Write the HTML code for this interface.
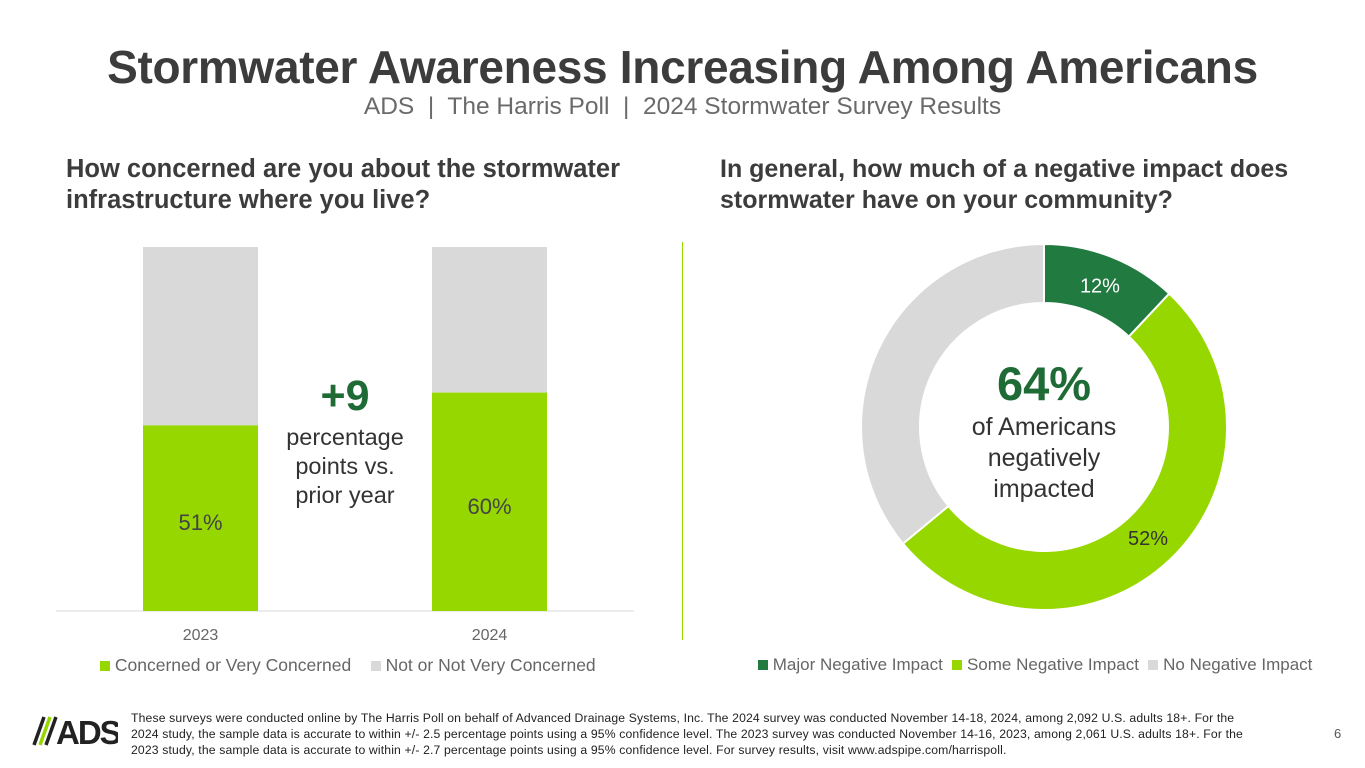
<!DOCTYPE html>
<html><head><meta charset="utf-8"><style>
body{margin:0;width:1365px;height:768px;background:#fff;font-family:"Liberation Sans",sans-serif;position:relative;overflow:hidden;color:#3a3a3a}
.a{position:absolute}
</style></head><body>
<div class="a" style="left:0;width:1365px;top:40px;text-align:center;font-size:46px;font-weight:bold;color:#3c3c3c;letter-spacing:-0.3px">Stormwater Awareness Increasing Among Americans</div>
<div class="a" style="left:0;width:1365px;top:93px;text-align:center;font-size:24.5px;color:#6a6a6a">ADS &nbsp;|&nbsp; The Harris Poll &nbsp;|&nbsp; 2024 Stormwater Survey Results</div>
<div class="a" style="left:66px;top:154px;font-size:25.5px;font-weight:bold;line-height:31px;color:#3c3c3c;white-space:nowrap">How concerned are you about the stormwater<br>infrastructure where you live?</div>
<div class="a" style="left:720px;top:154px;font-size:25px;font-weight:bold;line-height:31px;color:#3c3c3c;white-space:nowrap">In general, how much of a negative impact does<br>stormwater have on your community?</div>
<div class="a" style="left:682px;top:242px;width:1px;height:398px;background:#97d700"></div>
<svg class="a" style="left:0;top:0" width="1365" height="768" id="svg">
<line x1="56" y1="611" x2="634" y2="611" stroke="#d9d9d9"/>
</svg>
<div class="a" style="left:285px;width:120px;top:372px;text-align:center;font-size:43px;font-weight:bold;color:#1e6b35">+9</div>
<div class="a" style="left:260px;width:170px;top:423px;text-align:center;font-size:23.5px;line-height:29px;color:#333">percentage<br>points vs.<br>prior year</div>
<div class="a" style="left:924px;width:240px;top:356px;text-align:center;font-size:47px;font-weight:bold;color:#1e6b35">64%</div>
<div class="a" style="left:924px;width:240px;top:412px;text-align:center;font-size:25px;line-height:31px;color:#333">of Americans<br>negatively<br>impacted</div>
<div class="a" style="left:100px;top:655px;font-size:17.5px;color:#666;white-space:nowrap"><span style="display:inline-block;width:10px;height:10px;background:#97d700"></span> Concerned or Very Concerned &nbsp;&nbsp; <span style="display:inline-block;width:10px;height:10px;background:#d9d9d9"></span> Not or Not Very Concerned</div>
<div class="a" style="left:758px;top:655px;font-size:17px;color:#666;white-space:nowrap"><span style="display:inline-block;width:10px;height:10px;background:#217a40"></span> Major Negative Impact &nbsp;<span style="display:inline-block;width:10px;height:10px;background:#97d700"></span> Some Negative Impact &nbsp;<span style="display:inline-block;width:10px;height:10px;background:#d9d9d9"></span> No Negative Impact</div>
<div class="a" style="left:32px;top:713px;width:86px;height:34px">
<svg width="86" height="34"><g stroke-width="3.5"><line x1="2" y1="32" x2="12" y2="4" stroke="#222"/><line x1="8" y1="32" x2="18" y2="4" stroke="#97d700"/><line x1="14" y1="32" x2="24" y2="4" stroke="#222"/></g>
<text x="24" y="31" font-family="Liberation Sans" font-weight="bold" font-size="33" fill="#222" letter-spacing="-2">ADS</text></svg></div>
<div class="a" style="left:131px;top:710px;width:1160px;font-size:12.2px;letter-spacing:0.15px;line-height:16px;color:#222;white-space:nowrap">These surveys were conducted online by The Harris Poll on behalf of Advanced Drainage Systems, Inc. The 2024 survey was conducted November 14-18, 2024, among 2,092 U.S. adults 18+. For the<br>2024 study, the sample data is accurate to within +/- 2.5 percentage points using a 95% confidence level. The 2023 survey was conducted November 14-16, 2023, among 2,061 U.S. adults 18+. For the<br>2023 study, the sample data is accurate to within +/- 2.7 percentage points using a 95% confidence level. For survey results, visit www.adspipe.com/harrispoll.</div>
<div class="a" style="left:1334px;top:726px;font-size:13px;color:#555">6</div>
<script>
const years=["2023","2024"];
const concerned=[51,60];
const donutLabels=["Major Negative Impact","Some Negative Impact","No Negative Impact"];
const donutValues=[12,52,36];
const svg=document.getElementById('svg');const NS='http://www.w3.org/2000/svg';
function mk(t,at){const e=document.createElementNS(NS,t);for(const k in at)e.setAttribute(k,at[k]);svg.appendChild(e);return e;}
const y0=611,h=364;const y=v=>y0-v/100*h;const xs=i=>143+i*289;
years.forEach((yr,i)=>{
 const g=mk('rect',{x:xs(i),y:y(100),width:115,height:y(concerned[i])-y(100),fill:'#d9d9d9'});
 
 const b=mk('rect',{x:xs(i),y:y(concerned[i]),width:115,height:y0-y(concerned[i]),fill:'#97d700'});
 
 const t=mk('text',{x:xs(i)+57.5,y:y(concerned[i]/2)+12,'text-anchor':'middle','font-size':22,fill:'#444','font-family':'Liberation Sans'});t.textContent=concerned[i]+'%';
 
 const l=mk('text',{x:xs(i)+57.5,y:640,'text-anchor':'middle','font-size':16,fill:'#666','font-family':'Liberation Sans'});l.textContent=yr;
 
});
const cx=1044,cy=427,R=183,r=124,cols=['#217a40','#97d700','#d9d9d9'];
const tot=donutValues.reduce((a,b)=>a+b,0);let acc=0;
const pt=(a,rad)=>[cx+rad*Math.sin(a),cy-rad*Math.cos(a)];
donutValues.forEach((v,i)=>{
 const a0=acc/tot*2*Math.PI;acc+=v;const a1=acc/tot*2*Math.PI;const lg=a1-a0>Math.PI?1:0;
 const p1=pt(a0,R),p2=pt(a1,R),p3=pt(a1,r),p4=pt(a0,r);
 const p=mk('path',{d:`M${p1}A${R},${R} 0 ${lg} 1 ${p2}L${p3}A${r},${r} 0 ${lg} 0 ${p4}Z`,fill:cols[i],stroke:'#fff','stroke-width':2});
 
 if(i<2){const m=(a0+a1)/2;const q=pt(m,152);
 const t=mk('text',{x:q[0],y:q[1]+7,'text-anchor':'middle','font-size':20,fill:i==0?'#fff':'#333','font-family':'Liberation Sans'});t.textContent=v+'%';
 }
});
</script>
</body></html>
